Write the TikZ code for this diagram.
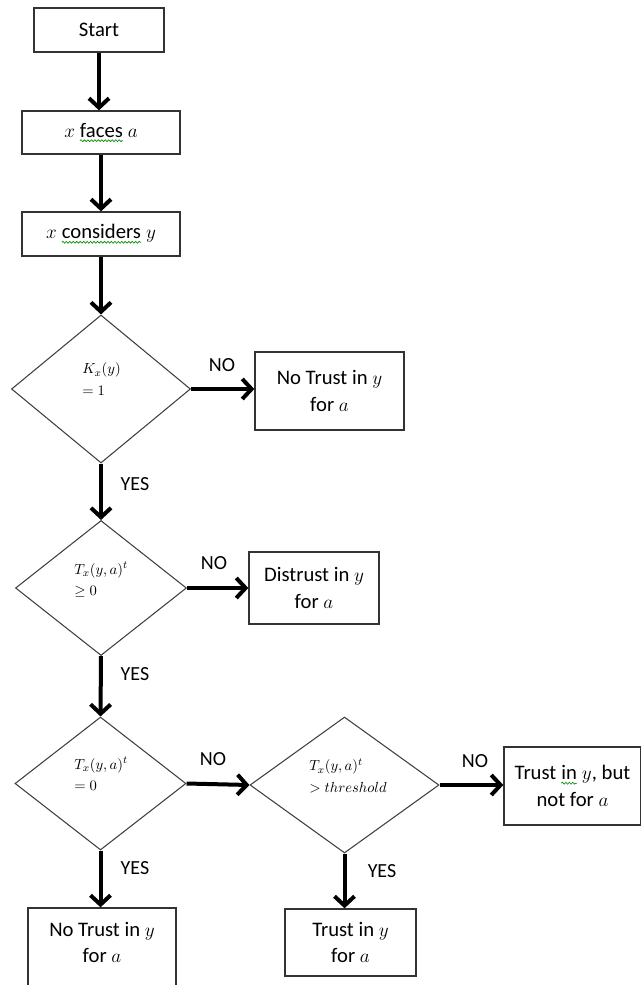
\documentclass[tikz,border=0pt]{standalone}
\usepackage{fontspec}
\setmainfont{Carlito}
\usetikzlibrary{shapes.geometric,arrows.meta,decorations.pathmorphing}
% green wavy spell-check underline under a word
\newcommand\spellwave[1]{\tikz[baseline=(w.base),x=1pt,y=1pt]{%
  \node[inner sep=0pt,outer sep=0pt,draw=none,rectangle,
    minimum width=0pt,minimum height=0pt,anchor=base] (w) at (0,0) {#1};
  \draw[green!55!black,line width=0.5pt,decorate,
    decoration={snake,amplitude=0.7pt,segment length=2.6pt}]
    ([yshift=-2.6pt]w.base west) -- ([yshift=-2.6pt]w.base east);}}

\begin{document}
\begin{tikzpicture}[x=0.75pt,y=-0.75pt,
  box/.style={draw=black!80, line width=1pt, rectangle, inner sep=0pt,
    align=center, font=\fontsize{15.5}{20}\selectfont},
  decision/.style={draw=black!75, line width=0.8pt, diamond, inner sep=0pt},
  cond/.style={anchor=west, align=left, inner sep=0pt,
    font=\fontsize{11}{16}\selectfont},
  flow/.style={line width=3pt,
    -{Straight Barb[length=7pt,width=15pt]}},
  lbl/.style={font=\fontsize{15}{16}\selectfont, inner sep=0pt}]

\useasboundingbox (0,0) rectangle (641,985);
\clip (0,0) rectangle (641,985);

% main column
\node[box, minimum width=97.5pt, minimum height=33pt] (start) at (99,30) {Start};
\node[box, minimum width=118.5pt, minimum height=32.25pt] (faces) at (101,132.5)
  {$x$ \spellwave{faces} $a$};
\node[box, minimum width=118.5pt, minimum height=33pt] (cons) at (101,234)
  {$x$ \spellwave{considers} $y$};

% decisions
\node[decision, minimum width=134.25pt, minimum height=111pt] (d1) at (101,389) {};
\node[cond] at (82,379) {$K_x(y)$\\$= 1$};

\node[decision, minimum width=128.25pt, minimum height=101.25pt] (d2) at (101,588) {};
\node[cond] at (74,580) {$T_x(y,a)^t$\\$\geq 0$};

\node[decision, minimum width=128.25pt, minimum height=99.75pt] (d3) at (100.5,783.5) {};
\node[cond] at (74,774) {$T_x(y,a)^t$\\$= 0$};

\node[decision, minimum width=141.75pt, minimum height=102pt] (d4) at (344.5,785) {};
\node[cond] at (309,776) {$T_x(y,a)^t$\\$> threshold$};

% outcomes
\node[box, minimum width=111.75pt, minimum height=58.5pt] (nt1) at (329.5,391)
  {No Trust in $y$\\for $a$};
\node[box, minimum width=97.5pt, minimum height=54pt] (dis) at (314,588)
  {Distrust in $y$\\for $a$};
\node[box, minimum width=102.75pt, minimum height=58.5pt] (tb) at (572.5,786)
  {Trust \spellwave{in} $y$, but\\not for $a$};
\node[box, minimum width=98.25pt, minimum height=50.25pt] (ty) at (350.5,942.5)
  {Trust in $y$\\for $a$};
\node[box, minimum width=111pt, minimum height=69pt] (nt2) at (102,954) {};
\node[box, draw=none] at (102,942.5) {No Trust in $y$\\for $a$};

% connectors
\draw[flow] (start.south) -- (start.south |- faces.north);
\draw[flow] (faces.south) -- (faces.south |- cons.north);
\draw[flow] (cons.south) -- (cons.south |- d1.north);
\draw[flow] (d1.east) -- (d1.east -| nt1.west);
\draw[flow] (d1.south) -- (d2.north);
\draw[flow] (d2.east) -- (d2.east -| dis.west);
\draw[flow] (d2.south) -- (d3.north);
\draw[flow] (d3.east) -- (d4.west);
\draw[flow] (d4.east) -- (d4.east -| tb.west);
\draw[flow] (d3.south) -- (d3.south |- nt2.north);
\draw[flow] (d4.south) -- (d4.south |- ty.north);

% branch labels
\node[lbl] at (222,365) {NO};
\node[lbl] at (214,563) {NO};
\node[lbl] at (213,759) {NO};
\node[lbl] at (475,761) {NO};
\node[lbl] at (135,484) {YES};
\node[lbl] at (135,674) {YES};
\node[lbl] at (135,868) {YES};
\node[lbl] at (382,871) {YES};
\end{tikzpicture}
\end{document}
